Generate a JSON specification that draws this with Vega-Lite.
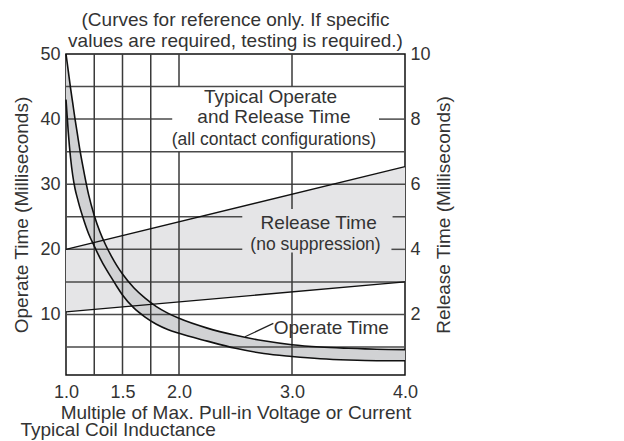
{
  "$schema": "https://vega.github.io/schema/vega-lite/v6.json",
  "width": 339,
  "height": 321,
  "autosize": {"type": "none"},
  "padding": {"left": 66, "top": 54, "right": 219, "bottom": 66},
  "config": {
    "font": "Liberation Sans",
    "view": {"stroke": "#111111", "strokeWidth": 1.5},
    "axis": {"grid": false, "ticks": false, "domain": false, "labelFontSize": 18, "labelColor": "#333333", "titleFontSize": 19, "titleFontWeight": "normal", "titleColor": "#333333", "labelFont": "Liberation Sans", "titleFont": "Liberation Sans"}
  },
  "title": {"text": ["(Curves for reference only. If specific", "values are required, testing is required.)"], "fontSize": 19, "fontWeight": "normal", "color": "#333333", "lineHeight": 21, "anchor": "middle", "offset": -6, "font": "Liberation Sans"},
  "datasets": {
    "op": [
      {"x": 1.0, "hi": 50, "lo": 43},
      {"x": 1.02, "hi": 47.4, "lo": 38},
      {"x": 1.04, "hi": 44.8, "lo": 34.1},
      {"x": 1.06, "hi": 42.4, "lo": 31.3},
      {"x": 1.08, "hi": 40.0, "lo": 29.3},
      {"x": 1.1, "hi": 37.8, "lo": 27.9},
      {"x": 1.12, "hi": 35.6, "lo": 26.6},
      {"x": 1.15, "hi": 32.7, "lo": 24.9},
      {"x": 1.2, "hi": 28.4, "lo": 22.4},
      {"x": 1.25, "hi": 25.2, "lo": 20.5},
      {"x": 1.3, "hi": 22.7, "lo": 18.7},
      {"x": 1.35, "hi": 20.7, "lo": 17.1},
      {"x": 1.4, "hi": 19.0, "lo": 15.7},
      {"x": 1.45, "hi": 17.5, "lo": 14.3},
      {"x": 1.5, "hi": 16.2, "lo": 13.0},
      {"x": 1.6, "hi": 14.1, "lo": 11.0},
      {"x": 1.7, "hi": 12.5, "lo": 9.6},
      {"x": 1.8, "hi": 11.2, "lo": 8.5},
      {"x": 1.9, "hi": 10.2, "lo": 7.7},
      {"x": 2.0, "hi": 9.4, "lo": 7.1},
      {"x": 2.25, "hi": 7.9, "lo": 5.9},
      {"x": 2.5, "hi": 6.8, "lo": 4.8},
      {"x": 2.75, "hi": 5.95, "lo": 4.0},
      {"x": 3.0, "hi": 5.35, "lo": 3.55},
      {"x": 3.25, "hi": 5.0, "lo": 3.2},
      {"x": 3.5, "hi": 4.8, "lo": 3.0},
      {"x": 3.75, "hi": 4.65, "lo": 2.9},
      {"x": 4.0, "hi": 4.6, "lo": 2.9}
    ],
    "rel": [
      {"x": 1.0, "hi": 4.0, "lo": 2.08},
      {"x": 4.0, "hi": 6.54, "lo": 3.0}
    ],
    "rl": [
      {"x1": 1.0, "y1": 4.0, "x2": 4.0, "y2": 6.54},
      {"x1": 1.0, "y1": 2.08, "x2": 4.0, "y2": 3.0}
    ],
    "gh": [
      {"y": 45, "x1": 1.0, "x2": 4.0},
      {"y": 40, "x1": 1.0, "x2": 1.94},
      {"y": 40, "x1": 3.77, "x2": 4.0},
      {"y": 35, "x1": 1.0, "x2": 4.0},
      {"y": 30, "x1": 1.0, "x2": 4.0},
      {"y": 25, "x1": 1.0, "x2": 2.56},
      {"y": 25, "x1": 3.89, "x2": 4.0},
      {"y": 20, "x1": 1.0, "x2": 2.56},
      {"y": 20, "x1": 3.88, "x2": 4.0},
      {"y": 15, "x1": 1.0, "x2": 4.0},
      {"y": 10, "x1": 1.0, "x2": 4.0},
      {"y": 5, "x1": 1.0, "x2": 4.0}
    ],
    "gv": [
      {"x": 1.25, "y1": 0.7, "y2": 50},
      {"x": 1.5, "y1": 0.7, "y2": 50},
      {"x": 1.75, "y1": 0.7, "y2": 50},
      {"x": 2.0, "y1": 0.7, "y2": 35},
      {"x": 2.0, "y1": 45, "y2": 50},
      {"x": 3.0, "y1": 0.7, "y2": 19.5},
      {"x": 3.0, "y1": 26.2, "y2": 35},
      {"x": 3.0, "y1": 45, "y2": 50}
    ],
    "lead": [
      {"x1": 2.584, "y1": 6.57, "x2": 2.835, "y2": 8.63}
    ],
    "txt": [
      {"x": 2.81, "y": 43.4, "label": "Typical Operate"},
      {"x": 2.84, "y": 40.3, "label": "and Release Time"},
      {"x": 3.236, "y": 24.0, "label": "Release Time"},
      {"x": 3.348, "y": 7.9, "label": "Operate Time"}
    ],
    "note": [
      {"x": 2.84, "y": 36.8, "label": "(all contact configurations)"},
      {"x": 3.208, "y": 20.66, "label": "(no suppression)"}
    ]
  },
  "layer": [
    {
      "data": {"name": "rel"},
      "mark": {"type": "area", "color": "#e5e5e7"},
      "encoding": {
        "x": {"field": "x", "type": "quantitative", "scale": {"domain": [1, 4], "nice": false, "zero": false},
          "axis": {"orient": "bottom", "values": [1, 1.5, 2, 3, 4], "format": ".1f", "labelFlush": false, "labelOverlap": false, "labelPadding": 8, "title": "Multiple of Max. Pull-in Voltage or Current", "titleY": 43, "titleBaseline": "alphabetic"}},
        "y": {"field": "hi", "type": "quantitative", "scale": {"domain": [0.14, 10], "nice": false, "zero": false},
          "axis": {"orient": "right", "values": [2, 4, 6, 8, 10], "labelPadding": 5, "title": "Release Time (Milliseconds)", "titleAngle": 270, "titleBaseline": "top", "titlePadding": 4}},
        "y2": {"field": "lo"}
      }
    },
    {
      "data": {"name": "op"},
      "mark": {"type": "area", "color": "#d1d2d4", "interpolate": "monotone"},
      "encoding": {
        "x": {"field": "x", "type": "quantitative", "scale": {"domain": [1, 4], "nice": false, "zero": false}, "axis": null},
        "y": {"field": "hi", "type": "quantitative", "scale": {"domain": [0.7, 50], "nice": false, "zero": false},
          "axis": {"orient": "left", "values": [10, 20, 30, 40, 50], "labelPadding": 6, "title": "Operate Time (Milliseconds)", "titlePadding": 8}},
        "y2": {"field": "lo"}
      }
    },
    {
      "data": {"name": "gh"},
      "mark": {"type": "rule", "color": "#4a4a4a", "strokeWidth": 1.5},
      "encoding": {
        "x": {"field": "x1", "type": "quantitative", "scale": {"domain": [1, 4], "nice": false, "zero": false},
          "axis": {"orient": "bottom", "labels": false, "title": "Typical Coil Inductance", "titleX": -46, "titleY": 60, "titleAlign": "left", "titleBaseline": "alphabetic"}},
        "x2": {"field": "x2"},
        "y": {"field": "y", "type": "quantitative", "scale": {"domain": [0.7, 50], "nice": false, "zero": false}, "axis": null}
      }
    },
    {
      "data": {"name": "gv"},
      "mark": {"type": "rule", "color": "#3a3a3a", "strokeWidth": 1.5},
      "encoding": {
        "x": {"field": "x", "type": "quantitative", "scale": {"domain": [1, 4], "nice": false, "zero": false}, "axis": null},
        "y": {"field": "y1", "type": "quantitative", "scale": {"domain": [0.7, 50], "nice": false, "zero": false}, "axis": null},
        "y2": {"field": "y2"}
      }
    },
    {
      "data": {"name": "rl"},
      "mark": {"type": "rule", "color": "#111111", "strokeWidth": 1.3},
      "encoding": {
        "x": {"field": "x1", "type": "quantitative", "scale": {"domain": [1, 4], "nice": false, "zero": false}, "axis": null},
        "x2": {"field": "x2"},
        "y": {"field": "y1", "type": "quantitative", "scale": {"domain": [0.14, 10], "nice": false, "zero": false}, "axis": null},
        "y2": {"field": "y2"}
      }
    },
    {
      "data": {"name": "op"},
      "mark": {"type": "line", "color": "#111111", "strokeWidth": 1.6, "interpolate": "monotone"},
      "encoding": {
        "x": {"field": "x", "type": "quantitative", "scale": {"domain": [1, 4], "nice": false, "zero": false}, "axis": null},
        "y": {"field": "hi", "type": "quantitative", "scale": {"domain": [0.7, 50], "nice": false, "zero": false}, "axis": null}
      }
    },
    {
      "data": {"name": "op"},
      "mark": {"type": "line", "color": "#111111", "strokeWidth": 1.6, "interpolate": "monotone"},
      "encoding": {
        "x": {"field": "x", "type": "quantitative", "scale": {"domain": [1, 4], "nice": false, "zero": false}, "axis": null},
        "y": {"field": "lo", "type": "quantitative", "scale": {"domain": [0.7, 50], "nice": false, "zero": false}, "axis": null}
      }
    },
    {
      "data": {"name": "lead"},
      "mark": {"type": "rule", "color": "#222222", "strokeWidth": 1.2},
      "encoding": {
        "x": {"field": "x1", "type": "quantitative", "scale": {"domain": [1, 4], "nice": false, "zero": false}, "axis": null},
        "x2": {"field": "x2"},
        "y": {"field": "y1", "type": "quantitative", "scale": {"domain": [0.7, 50], "nice": false, "zero": false}, "axis": null},
        "y2": {"field": "y2"}
      }
    },
    {
      "data": {"name": "txt"},
      "mark": {"type": "text", "fontSize": 19, "color": "#333333", "align": "center", "baseline": "middle", "font": "Liberation Sans"},
      "encoding": {
        "x": {"field": "x", "type": "quantitative", "scale": {"domain": [1, 4], "nice": false, "zero": false}, "axis": null},
        "y": {"field": "y", "type": "quantitative", "scale": {"domain": [0.7, 50], "nice": false, "zero": false}, "axis": null},
        "text": {"field": "label"}
      }
    },
    {
      "data": {"name": "note"},
      "mark": {"type": "text", "fontSize": 17.5, "color": "#333333", "align": "center", "baseline": "middle", "font": "Liberation Sans"},
      "encoding": {
        "x": {"field": "x", "type": "quantitative", "scale": {"domain": [1, 4], "nice": false, "zero": false}, "axis": null},
        "y": {"field": "y", "type": "quantitative", "scale": {"domain": [0.7, 50], "nice": false, "zero": false}, "axis": null},
        "text": {"field": "label"}
      }
    }
  ],
  "resolve": {"scale": {"y": "independent"}, "axis": {"x": "independent", "y": "independent"}}
}
